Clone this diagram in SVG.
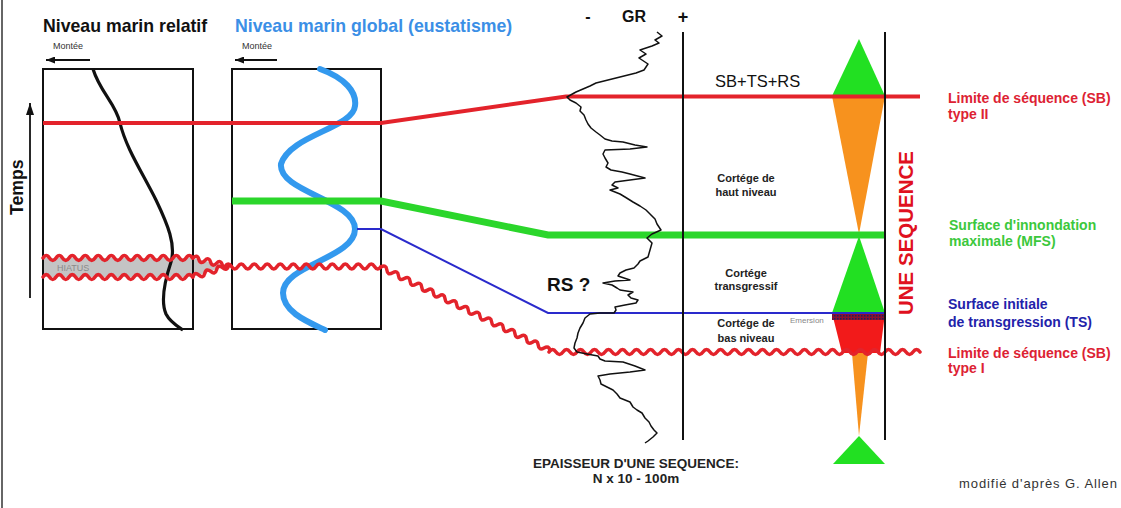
<svg xmlns="http://www.w3.org/2000/svg" width="1121" height="508" viewBox="0 0 1121 508">
<defs>
<style>
.t{font-family:"Liberation Sans",Arial,sans-serif}
.b{font-weight:bold}
.box{fill:none;stroke:#111;stroke-width:2}
.wave{fill:none;stroke:#e3232b;stroke-width:3.5;stroke-linejoin:round;stroke-linecap:round}
.vline{stroke:#111;stroke-width:2}
.lab{font-family:"Liberation Sans",Arial,sans-serif;font-weight:bold;font-size:14px}
.cor{font-family:"Liberation Sans",Arial,sans-serif;font-weight:bold;font-size:11px;fill:#222;text-anchor:middle}
</style>
<marker id="arrS" markerUnits="userSpaceOnUse" markerWidth="9" markerHeight="7" refX="9" refY="3.5" orient="auto">
<path d="M0,0 L9,3.5 L0,7 z" fill="#111"/>
</marker>
<marker id="arrT" markerUnits="userSpaceOnUse" markerWidth="12" markerHeight="8" refX="12" refY="4" orient="auto">
<path d="M0,0 L12,4 L0,8 z" fill="#111"/>
</marker>
<pattern id="emer" patternUnits="userSpaceOnUse" width="3" height="3">
<rect width="3" height="3" fill="#8a1030"/>
<rect width="1.5" height="1.5" fill="#1e1e60"/>
</pattern>
</defs>
<rect width="1121" height="508" fill="#fff"/>
<line x1="2" y1="0" x2="2" y2="508" stroke="#333" stroke-width="1.5"/>

<g id="titles">
<text class="t b" x="43" y="32" font-size="17.7" fill="#111">Niveau marin relatif</text>
<text class="t b" x="235" y="32" font-size="17.7" fill="#3b8fe6">Niveau marin global (eustatisme)</text>
<text class="t" x="53" y="49" font-size="9" fill="#333">Montée</text>
<line x1="90" y1="60" x2="46" y2="60" stroke="#111" stroke-width="1.8" marker-end="url(#arrS)"/>
<text class="t" x="242" y="49" font-size="9" fill="#333">Montée</text>
<line x1="277" y1="60" x2="235" y2="60" stroke="#111" stroke-width="1.8" marker-end="url(#arrS)"/>
</g>

<g id="temps">
<line x1="30" y1="298" x2="30" y2="103" stroke="#111" stroke-width="1.8" marker-end="url(#arrT)"/>
<text class="t b" font-size="17.7" fill="#111" transform="translate(23,215) rotate(-90)">Temps</text>
</g>

<g id="hiatus">
<rect x="43" y="258" width="150" height="19" fill="#c4c4c4"/>
<polygon points="193,258 226,266 193,277" fill="#c4c4c4"/>
<text class="t" x="57" y="271" font-size="9" fill="#8a8a8a">HIATUS</text>
</g>

<g id="box-relatif">
<rect class="box" x="43" y="69" width="150" height="260"/>
<path d="M93,69 C100,92 116,104 120,123 C126,148 142,172 156,200 C168,225 176,245 171,262 C165,280 160,300 166,314 C170,322 177,326 183,330" fill="none" stroke="#111" stroke-width="3.2"/>
</g>

<g id="box-global">
<rect class="box" x="232" y="69" width="149" height="260"/>
<path d="M320,69 C345,78 357,92 355,106 C353,128 290,135 281,164 C278,192 355,200 355,229 C355,258 283,265 283,293 C283,312 308,322 325,330" fill="none" stroke="#3399ee" stroke-width="6" stroke-linecap="round"/>
</g>

<g id="triangles">
<polygon points="859,39 832,96 885,96" fill="#22e022"/>
<polygon points="832,96 885,96 859,234" fill="#f7921e"/>
<polygon points="859,236 832,313 885,313" fill="#22e022"/>
<polygon points="832,313 885,313 880,353 842,353" fill="#f21a1a"/>
<rect x="832" y="313" width="53" height="7" fill="url(#emer)"/>
<polygon points="852,353 868,353 859,436" fill="#f7921e"/>
<polygon points="859,436 833,464 885,464" fill="#22e022"/>
</g>

<g id="connectors">
<polyline points="43,123 381,123 566,96.5 920,96.5" fill="none" stroke="#e3232b" stroke-width="4"/>
<polyline points="232,201 381,201 548,235 885,235" fill="none" stroke="#2bd62b" stroke-width="7"/>
<polyline points="357,229 381,229 548,313 885,313" fill="none" stroke="#2a2acc" stroke-width="2"/>
<path class="wave" transform="translate(43,258)" d="M0,0 q3.25,-5 6.5,0 t6.5,0 t6.5,0 t6.5,0 t6.5,0 t6.5,0 t6.5,0 t6.5,0 t6.5,0 t6.5,0 t6.5,0 t6.5,0 t6.5,0 t6.5,0 t6.5,0 t6.5,0 t6.5,0 t6.5,0 t6.5,0 t6.5,0 t6.5,0 t6.5,0 t6.5,0"/>
<path class="wave" transform="translate(43,277)" d="M0,0 q3.25,-5 6.5,0 t6.5,0 t6.5,0 t6.5,0 t6.5,0 t6.5,0 t6.5,0 t6.5,0 t6.5,0 t6.5,0 t6.5,0 t6.5,0 t6.5,0 t6.5,0 t6.5,0 t6.5,0 t6.5,0 t6.5,0 t6.5,0 t6.5,0 t6.5,0 t6.5,0 t6.5,0"/>
<path class="wave" transform="translate(193,258) rotate(12.9)" d="M0,0 q3,-5 6,0 t6,0 t6,0 t6,0 t6,0 t6,0"/>
<path class="wave" transform="translate(193,277) rotate(-17.4)" d="M0,0 q3.1,-5 6.2,0 t6.2,0 t6.2,0 t6.2,0 t6.2,0 t6.2,0"/>
<path class="wave" transform="translate(225,266.5)" d="M0,0 q3.25,-5 6.5,0 t6.5,0 t6.5,0 t6.5,0 t6.5,0 t6.5,0 t6.5,0 t6.5,0 t6.5,0 t6.5,0 t6.5,0 t6.5,0 t6.5,0 t6.5,0 t6.5,0 t6.5,0 t6.5,0 t6.5,0 t6.5,0 t6.5,0 t6.5,0 t6.5,0 t6.5,0 t6.5,0"/>
<path class="wave" transform="translate(381,267) rotate(26.4)" d="M0,0 q3.25,-5 6.5,0 t6.5,0 t6.5,0 t6.5,0 t6.5,0 t6.5,0 t6.5,0 t6.5,0 t6.5,0 t6.5,0 t6.5,0 t6.5,0 t6.5,0 t6.5,0 t6.5,0 t6.5,0 t6.5,0 t6.5,0 t6.5,0 t6.5,0 t6.5,0 t6.5,0 t6.5,0 t6.5,0 t6.5,0 t6.5,0 t6.5,0 t6.5,0 t6.5,0"/>
<path class="wave" transform="translate(549,352)" d="M0,0 q3.5,-5 7,0 t7,0 t7,0 t7,0 t7,0 t7,0 t7,0 t7,0 t7,0 t7,0 t7,0 t7,0 t7,0 t7,0 t7,0 t7,0 t7,0 t7,0 t7,0 t7,0 t7,0 t7,0 t7,0 t7,0 t7,0 t7,0 t7,0 t7,0 t7,0 t7,0 t7,0 t7,0 t7,0 t7,0 t7,0 t7,0 t7,0 t7,0 t7,0 t7,0 t7,0 t7,0 t7,0 t7,0 t7,0 t7,0 t7,0 t7,0 t7,0 t7,0 t7,0 t7,0 t7,0"/>
</g>

<g id="gr-log">
<text class="t b" x="588" y="22" font-size="16" fill="#111" text-anchor="middle">-</text>
<text class="t b" x="634" y="22" font-size="16" fill="#111" text-anchor="middle">GR</text>
<text class="t b" x="683" y="23" font-size="18" fill="#111" text-anchor="middle">+</text>
<path d="M657,32 L662,36 L655,40 L659,43 L652,46 L640,50 L646,54 L639,58 L648,64 L644,70 L636,73 L628,75 L620,77 L612,79 L604,81 L596,83 L590,86 L583,89 L576,92 L567,97 L570,100 L576,103 L581,107 L580,111 L584,115 L586,120 L588,124 L591,128 L596,132 L600,135 L605,139 L612,141 L623,142 L635,145 L647,147 L630,149 L605,150 L603,154 L605,158 L608,163 L606,167 L611,170 L622,172 L630,174 L645,178 L630,180 L615,182 L612,185 L618,188 L610,190 L620,194 L625,197 L633,202 L640,206 L646,210 L650,214 L655,219 L657,224 L661,230 L652,234 L647,238 L652,243 L650,250 L648,257 L640,261 L638,264 L634,268 L626,270 L620,273 L618,276 L630,280 L615,281 L603,283 L612,285 L617,288 L620,290 L633,292 L628,295 L631,298 L638,300 L636,303 L625,305 L615,307 L616,310 L614,313 L600,313 L590,314 L585,318 L583,323 L580,328 L578,333 L577,338 L575,343 L574,348 L577,352 L587,354 L598,356 L600,359 L605,361 L623,362 L635,366 L645,370 L630,372 L610,374 L598,376 L600,380 L601,384 L607,387 L613,390 L617,394 L620,398 L630,402 L633,407 L637,410 L642,413 L645,418 L649,422 L651,426 L654,430 L657,433 L653,437 L648,441 L645,443" fill="none" stroke="#111" stroke-width="1.5" stroke-linejoin="round"/>
<text class="t b" x="547" y="291" font-size="19" fill="#111">RS ?</text>
</g>

<g id="sequence-column">
<line class="vline" x1="683" y1="32" x2="683" y2="440"/>
<line class="vline" x1="885" y1="32" x2="885" y2="440"/>
<text class="t" x="715" y="87" font-size="16.5" fill="#111">SB+TS+RS</text>
<text class="cor" x="746" y="182">Cortége de</text>
<text class="cor" x="746" y="196">haut niveau</text>
<text class="cor" x="746" y="277">Cortége</text>
<text class="cor" x="746" y="290">transgressif</text>
<text class="cor" x="746" y="327">Cortége de</text>
<text class="cor" x="746" y="342">bas niveau</text>
<text class="t" x="790" y="323" font-size="8" fill="#888">Emersion</text>
<text class="t b" font-size="20.5" fill="#e01020" transform="translate(913,315) rotate(-90)">UNE SEQUENCE</text>
</g>

<g id="labels">
<text class="lab" x="948" y="103" fill="#dd2233">Limite de séquence (SB)</text>
<text class="lab" x="948" y="119" fill="#dd2233">type II</text>
<text class="lab" x="949" y="230" fill="#3cc83c">Surface d'innondation</text>
<text class="lab" x="949" y="246" fill="#3cc83c">maximale (MFS)</text>
<text class="lab" x="948" y="309" fill="#2222aa">Surface initiale</text>
<text class="lab" x="948" y="327" fill="#2222aa">de transgression (TS)</text>
<text class="lab" x="948" y="358" fill="#dd2233">Limite de séquence (SB)</text>
<text class="lab" x="948" y="373" fill="#dd2233">type I</text>
<text class="t" x="959" y="488" font-size="13" fill="#333" textLength="158">modifié d'après G. Allen</text>
</g>

<g id="thickness">
<text class="t b" x="636" y="468" font-size="13.5" fill="#222" text-anchor="middle">EPAISSEUR D'UNE SEQUENCE:</text>
<text class="t b" x="636" y="483" font-size="13.5" fill="#222" text-anchor="middle">N x 10 - 100m</text>
</g>
</svg>
